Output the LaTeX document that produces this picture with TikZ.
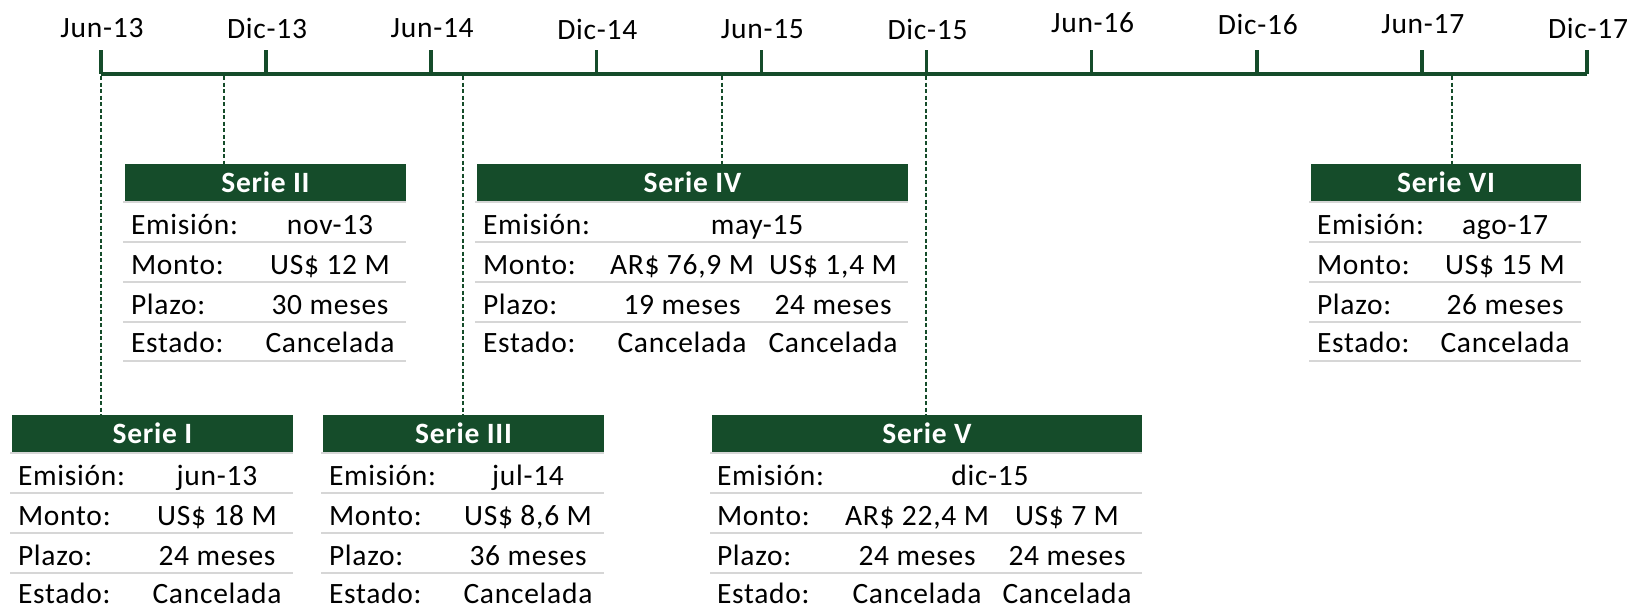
\documentclass[tikz,border=0pt]{standalone}
\usepackage{fontspec}
\setmainfont{Carlito}[LetterSpace=2.5]
\definecolor{dkgreen}{RGB}{21,76,42}
\definecolor{sepgray}{RGB}{214,214,214}
\tikzset{
  every node/.style={font=\fontsize{29.5}{34}\selectfont, inner sep=0pt, outer sep=0pt},
  axis/.style={draw=dkgreen, line width=3.5pt},
  tickmark/.style={draw=dkgreen, line width=3.5pt},
  datelabel/.style={anchor=center},
  hdr/.style={fill=dkgreen, text=white, font=\fontsize{29.5}{34}\selectfont\bfseries, minimum height=37pt, anchor=north west},
  sepline/.style={draw=sepgray, line width=2.2pt},
  guide/.style={draw=dkgreen, line width=1.4pt, dash pattern=on 4pt off 2.5pt},
  lbl/.style={anchor=base west, text depth=0pt},
  val/.style={anchor=base, text depth=0pt},
}
% #1 name, #2 x-left, #3 y-top, #4 width, #5 title, #6 emision, #7 monto, #8 plazo, #9 estado
\newcommand{\serietable}[9]{%
  \node[hdr, minimum width=#4pt] (#1) at (#2,#3) {#5};
  \pgfmathsetmacro{\vx}{#2+#4-76}
  \node[lbl] (#1-le) at (#2+6,#3+70) {Emisión:};
  \node[lbl] (#1-lm) at (#2+6,#3+110) {Monto:};
  \node[lbl] (#1-lp) at (#2+6,#3+150) {Plazo:};
  \node[lbl] (#1-ls) at (#2+6,#3+188) {Estado:};
  \node[val] (#1-ve) at (\vx,#3+70) {#6};
  \node[val] (#1-vm) at (\vx,#3+110) {#7};
  \node[val] (#1-vp) at (\vx,#3+150) {#8};
  \node[val] (#1-vs) at (\vx,#3+188) {#9};
  \foreach \k in {38,78,118,158,197}{
    \draw[sepline] (#2-2,#3+\k) -- (#2+#4,#3+\k);
  }
}
\begin{document}
\begin{tikzpicture}[x=1pt,y=-1pt]
\useasboundingbox (0,0) rectangle (1630,608);
% timeline
\coordinate (t0) at (101,74);
\coordinate (t9) at (1587,74);
\foreach \i/\lab/\ly in {0/Jun-13/28,1/Dic-13/28,2/Jun-14/28,3/Dic-14/29,4/Jun-15/29,5/Dic-15/29,6/Jun-16/23,7/Dic-16/24,8/Jun-17/24,9/Dic-17/28}{
  \coordinate (tk\i) at (101+165.11*\i,74);
  \draw[tickmark] (101+165.11*\i,50) -- (tk\i);
  \node[datelabel] (lab\i) at (101+165.11*\i+1,\ly) {\lab};
}
\draw[axis] (t0) -- (t9);
% timeline anchors of the series
\coordinate (d1) at (101,76);
\coordinate (d2) at (224,76);
\coordinate (d3) at (463,76);
\coordinate (d4) at (722,76);
\coordinate (d5) at (926,76);
\coordinate (d6) at (1452,76);
% single-column tables
\serietable{s1}{12}{415}{281}{Serie I}{jun-13}{US\$ 18 M}{24 meses}{Cancelada}
\serietable{s2}{125}{164}{281}{Serie II}{nov-13}{US\$ 12 M}{30 meses}{Cancelada}
\serietable{s3}{323}{415}{281}{Serie III}{jul-14}{US\$ 8,6 M}{36 meses}{Cancelada}
\serietable{s6}{1311}{164}{270}{Serie VI}{ago-17}{US\$ 15 M}{26 meses}{Cancelada}
% Serie IV
\node[hdr, minimum width=431pt] (s4) at (477,164) {Serie IV};
\node[lbl] (s4-le) at (483,234) {Emisión:};
\node[lbl] (s4-lm) at (483,274) {Monto:};
\node[lbl] (s4-lp) at (483,314) {Plazo:};
\node[lbl] (s4-ls) at (483,352) {Estado:};
\node[val] (s4-ve) at (757,234) {may-15};
\node[val] (s4-vm1) at (682,274) {AR\$ 76,9 M};
\node[val] (s4-vm2) at (833,274) {US\$ 1,4 M};
\node[val] (s4-vp1) at (682,314) {19 meses};
\node[val] (s4-vp2) at (833,314) {24 meses};
\node[val] (s4-vs1) at (682,352) {Cancelada};
\node[val] (s4-vs2) at (833,352) {Cancelada};
\foreach \yy in {202,242,282,322}{\draw[sepline] (475,\yy) -- (908,\yy);}
% Serie V
\node[hdr, minimum width=430pt] (s5) at (712,415) {Serie V};
\node[lbl] (s5-le) at (717,485) {Emisión:};
\node[lbl] (s5-lm) at (717,525) {Monto:};
\node[lbl] (s5-lp) at (717,565) {Plazo:};
\node[lbl] (s5-ls) at (717,603) {Estado:};
\node[val] (s5-ve) at (990,485) {dic-15};
\node[val] (s5-vm1) at (917,525) {AR\$ 22,4 M};
\node[val] (s5-vm2) at (1067,525) {US\$ 7 M};
\node[val] (s5-vp1) at (917,565) {24 meses};
\node[val] (s5-vp2) at (1067,565) {24 meses};
\node[val] (s5-vs1) at (917,603) {Cancelada};
\node[val] (s5-vs2) at (1067,603) {Cancelada};
\foreach \yy in {453,493,533,573}{\draw[sepline] (710,\yy) -- (1142,\yy);}
% dashed guides
\foreach \n in {1,...,6}{
  \draw[guide] (d\n) -- (d\n |- s\n.north);
}
\end{tikzpicture}
\end{document}
